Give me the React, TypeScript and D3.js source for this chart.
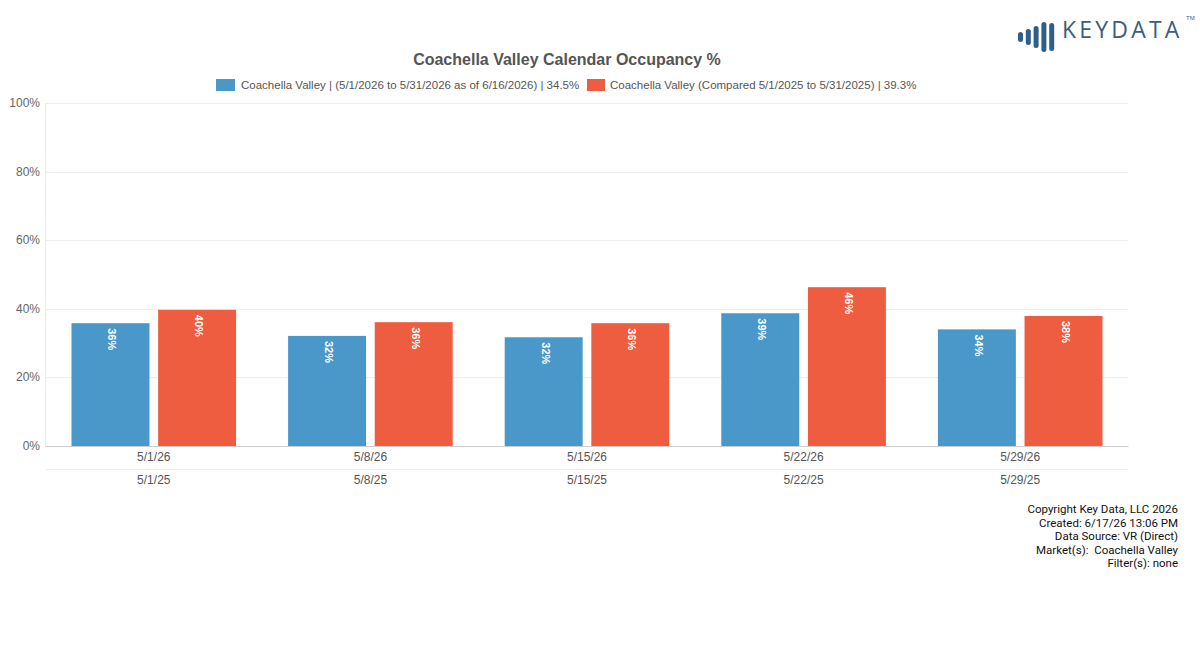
import React from "react";
import * as d3 from "d3";

const weeks2026 = ["5/1/26", "5/8/26", "5/15/26", "5/22/26", "5/29/26"];
const weeks2025 = ["5/1/25", "5/8/25", "5/15/25", "5/22/25", "5/29/25"];
const current = [35.8, 32.1, 31.7, 38.7, 34.0];
const compared = [39.7, 36.1, 35.8, 46.3, 37.9];
const yTicks = [0, 20, 40, 60, 80, 100];
const seriesNames = [
  "Coachella Valley | (5/1/2026 to 5/31/2026 as of 6/16/2026) | 34.5%",
  "Coachella Valley (Compared 5/1/2025 to 5/31/2025) | 39.3%",
];
const seriesColors = ["#4a98c9", "#ef5d40"];
const footerLines = [
  "Copyright Key Data, LLC 2026",
  "Created: 6/17/26 13:06 PM",
  "Data Source: VR (Direct)",
  "Market(s):  Coachella Valley",
  "Filter(s): none",
];
const logoBars = [10, 16, 22, 30, 28];

const W = 1200;
const H = 665;
const left = 45.5;
const right = 1128.5;
const top = 103;
const bottom = 446;

export default function App() {
  const x = d3.scaleBand<number>().domain(d3.range(weeks2026.length)).range([left, right]).paddingInner(0).paddingOuter(0);
  const inner = d3.scaleBand<number>().domain([0, 1]).range([0, x.bandwidth()]).paddingInner(0.1).paddingOuter(0.3);
  const y = d3.scaleLinear().domain([0, 100]).range([bottom, top]);
  const font = "'Liberation Sans', Arial, sans-serif";
  const series = [current, compared];

  return (
    <svg width={W} height={H} style={{ position: "absolute", left: 0, top: 0, background: "#fff" }} fontFamily={font}>
      {/* logo */}
      <g>
        {logoBars.map((h, i) => (
          <rect key={i} x={1018 + i * 7.8} y={34 - h / 2 + 3} width={5} height={h} rx={2.5} fill="#2f5f88" />
        ))}
        <text x={1062} y={38} fontSize={23} fill="#3c5d7c" letterSpacing={3.2} fontFamily="'Open Sans', sans-serif" fontWeight={400}>KEYDATA</text>
        <text x={1186} y={20} fontSize={6} fill="#3c5d7c">TM</text>
      </g>

      <text x={567} y={65} textAnchor="middle" fontSize={16} fontWeight="bold" fill="#555">
        Coachella Valley Calendar Occupancy %
      </text>

      {/* legend */}
      <rect x={216} y={79} width={19} height={12} fill={seriesColors[0]} />
      <text x={241} y={89} fontSize={11.5} fill="#555">{seriesNames[0]}</text>
      <rect x={587} y={79} width={18} height={12} fill={seriesColors[1]} />
      <text x={610} y={89} fontSize={11.5} fill="#555">{seriesNames[1]}</text>

      {/* grid */}
      {yTicks.map((t) => (
        <g key={t}>
          {t > 0 && <line x1={left} x2={right} y1={Math.round(y(t)) + 0.5} y2={Math.round(y(t)) + 0.5} stroke="#ececec" />}
          <text x={40} y={y(t) + 4} textAnchor="end" fontSize={12} fill="#666">{t}%</text>
        </g>
      ))}
      <line x1={left} x2={left} y1={top} y2={bottom} stroke="#ececec" />

      {/* bars */}
      {series.map((vals, s) =>
        vals.map((v, i) => {
          const bx = x(i)! + inner(s)!;
          const bw = inner.bandwidth();
          const cx = bx + bw / 2;
          const ty = y(v);
          return (
            <g key={`${s}-${i}`}>
              <rect x={bx} y={ty} width={bw} height={bottom - ty} fill={seriesColors[s]} />
              <text
                transform={`translate(${cx - 2},${ty + 5}) rotate(90)`}
                fontSize={11}
                fontWeight="bold"
                fill="#fff"
              >
                {Math.round(v)}%
              </text>
            </g>
          );
        })
      )}

      <line x1={left} x2={right} y1={bottom + 0.5} y2={bottom + 0.5} stroke="#ccc" />
      <line x1={left} x2={right} y1={469.5} y2={469.5} stroke="#ececec" />

      {weeks2026.map((w, i) => (
        <g key={w}>
          <text x={x(i)! + x.bandwidth() / 2} y={461} textAnchor="middle" fontSize={12} fill="#555">{w}</text>
          <text x={x(i)! + x.bandwidth() / 2} y={484} textAnchor="middle" fontSize={12} fill="#555">{weeks2025[i]}</text>
        </g>
      ))}

      {footerLines.map((l, i) => (
        <text key={i} x={1178} y={513 + i * 13.5} textAnchor="end" fontSize={11.5} fill="#111" fontFamily="Roboto, sans-serif" style={{ whiteSpace: "pre" }}>{l}</text>
      ))}
    </svg>
  );
}
